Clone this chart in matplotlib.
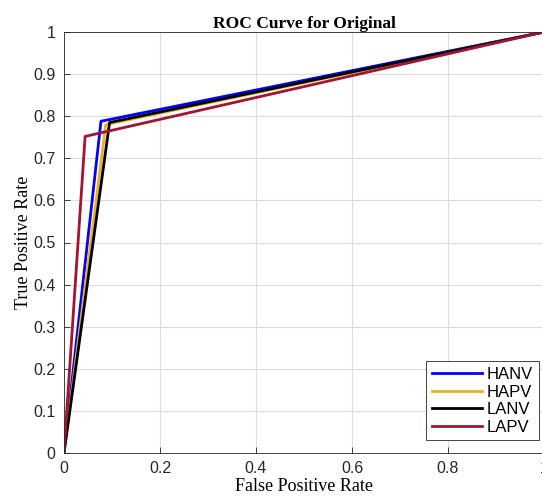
import numpy as np
import matplotlib
matplotlib.use('Agg')
import matplotlib.pyplot as plt

# ROC points (0,0) -> knee -> (1,1)
names = ['HANV', 'HAPV', 'LANV', 'LAPV']
fpr = [[0, 0.077, 1], [0, 0.087, 1], [0, 0.095, 1], [0, 0.044, 1]]
tpr = [[0, 0.788, 1], [0, 0.780, 1], [0, 0.785, 1], [0, 0.752, 1]]
colors = ['#0000FF', '#EDB120', '#000000', '#A2142F']

xticks = [0, 0.2, 0.4, 0.6, 0.8, 1]
yticks = np.round(np.arange(0, 1.01, 0.1), 1)

plt.rcParams['font.family'] = ['Liberation Sans', 'DejaVu Sans']

fig = plt.figure(figsize=(5.42, 5.0), dpi=100)
ax = fig.add_axes([64 / 542, 47 / 500, 480 / 542, 421 / 500])

for i in range(len(names)):
    ax.plot(fpr[i], tpr[i], color=colors[i], lw=2, label=names[i])

ax.set_xlim(0, 1)
ax.set_ylim(0, 1)
ax.set_xticks(xticks)
ax.set_xticklabels(['0', '0.2', '0.4', '0.6', '0.8', '1'])
ax.set_yticks(yticks)
ax.set_yticklabels(['0'] + ['%.1f' % v for v in yticks[1:-1]] + ['1'])
ax.grid(True, color='#dddddd', lw=0.8)
ax.set_axisbelow(True)
ax.tick_params(direction='in', length=4, labelsize=11.5, colors='#262626', width=0.6, pad=6)
for s in ax.spines.values():
    s.set_color('#262626')
    s.set_linewidth(0.6)

serif = ['Liberation Serif', 'DejaVu Serif']
ax.set_title('ROC Curve for Original', family=serif, fontweight='bold', fontsize=12.5, pad=3)
ax.set_xlabel('False Positive Rate', family=serif, fontsize=13, labelpad=1)
ax.set_ylabel('True Positive Rate', family=serif, fontsize=13, labelpad=1)

leg = ax.legend(loc='lower right', fontsize=12, fancybox=False, framealpha=1,
                edgecolor='#262626', borderpad=0.35, labelspacing=0.15,
                handlelength=3.0, handletextpad=0.3, borderaxespad=0,
                bbox_to_anchor=(0.99, 0.03))
leg.get_frame().set_linewidth(0.6)

fig.savefig('out.png', dpi=100)
